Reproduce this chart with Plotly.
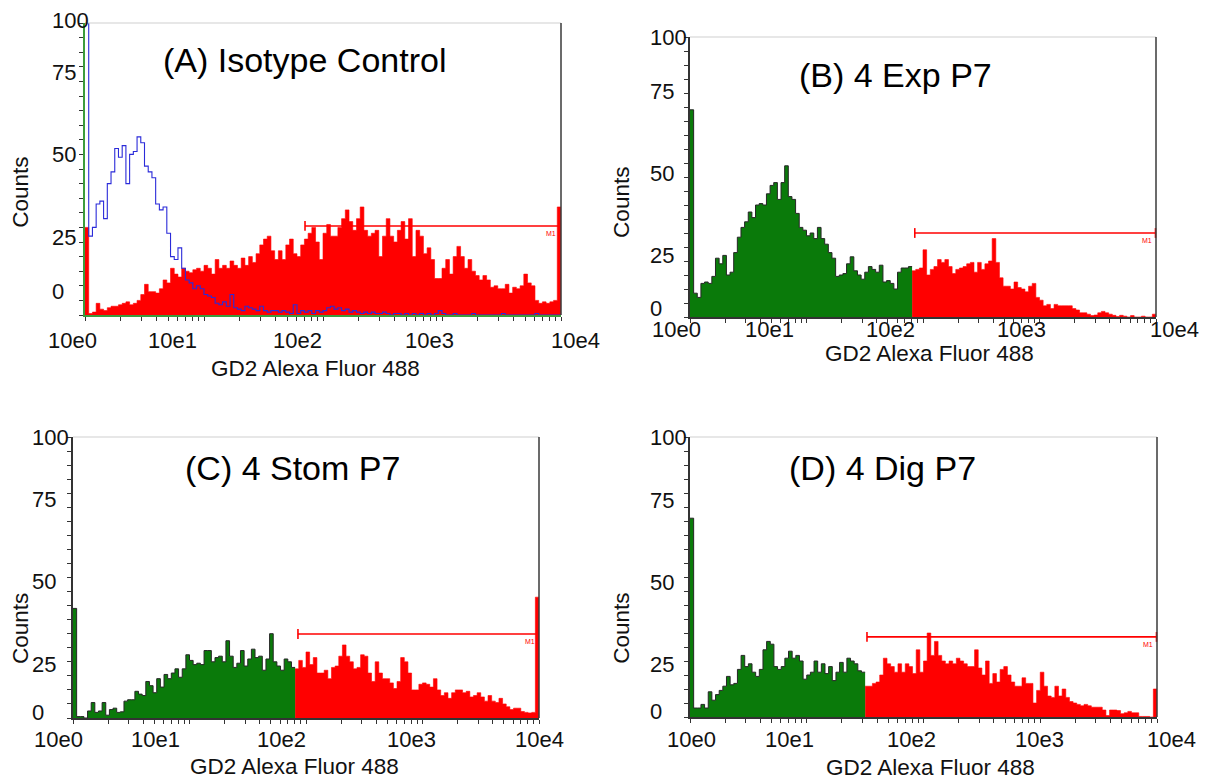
import numpy as np
import plotly.graph_objects as go

# ---------------- data (128 log bins over 4 decades, 10^0 .. 10^4) ----------------
X_TICK_TEXT = ["10e0", "10e1", "10e2", "10e3", "10e4"]
Y_TICK_TEXT = ["100", "75", "50", "25", "0"]
X_TITLE = "GD2 Alexa Fluor 488"
Y_TITLE = "Counts"
PANEL_TITLES = ["(A) Isotype Control", "(B) 4 Exp P7", "(C) 4 Stom P7", "(D) 4 Dig P7"]
GATE_LABEL = "M1"

A_ISOTYPE = [100, 27, 30, 38, 39, 33, 45, 49, 57, 54, 58, 45, 55, 56, 61, 59,
             51, 49, 47, 38, 36, 37, 28, 20, 19, 23, 16, 12, 11, 9, 10, 9,
             7, 6.5, 6, 4, 3.5, 4.5, 3, 7, 2.5, 2, 1.5, 3, 2.5, 2, 1.5, 3,
             1.5, 1, 1.5, 1.5, 1, 1.5, 1, 0.5, 3.5, 0.5, 1.5, 1, 1.5, 0.5, 1.5, 1,
             1.5, 2.5, 3, 2, 2.5, 1.5, 2, 1, 1.5, 1, 0.5, 1, 0.5, 1, 0.5, 0.5,
             1, 0.5, 0, 0.5, 0.5, 0, 0.5, 0, 0.5, 0, 0.5, 0, 0.5, 0, 0.5, 1.5,
             0.5, 0, 0, 0.5, 0, 0, 0, 0, 0.5, 0, 0, 0, 0, 0, 0, 0,
             0.5, 0, 0, 0, 0, 0, 0, 0, 0, 0.5, 0, 0, 0, 0, 0, 0]

A_STAINED = [30, 0.5, 1, 4, 2, 1.5, 2.5, 3, 3, 3.5, 4, 4.5, 3.5, 4, 5, 7,
             10.5, 8, 8, 7.5, 9, 12, 11, 16, 14, 13, 16, 15, 14.5, 15.5, 16, 15,
             17, 16, 14, 19, 16, 17, 16, 18.5, 17, 16, 19.5, 17, 20, 18, 21, 24,
             26, 27, 22, 19, 22, 19, 24, 26, 21, 20, 24, 26, 28, 30, 25, 19,
             28, 31, 27, 27, 30, 33, 36, 32, 29, 33, 37, 29, 27, 28, 29, 20,
             27, 33, 27, 25, 29, 32, 26, 33, 20, 29, 27, 21, 23, 19, 12.5, 12.5,
             16, 19, 14, 20, 23.5, 20, 16, 19, 15, 13.5, 12, 13.5, 12, 9.5, 10, 9,
             9, 10.5, 7.5, 9.5, 9, 10, 14, 11, 10, 5, 4, 4.5, 4, 4.5, 5, 37]

B_COUNTS = [74, 8.5, 7, 12, 12.5, 12, 14.5, 21, 19, 22, 15, 16, 23, 28.5, 32, 34,
            37.5, 35.5, 40, 40.5, 40, 44, 47, 48, 42, 48, 54, 43, 42, 37, 32, 31,
            29, 30, 28, 32, 28, 26, 23, 21, 14.5, 15, 15.5, 19, 21.5, 16.5, 15, 13.5,
            16, 18, 17, 16, 18.5, 12.5, 13, 12, 10, 16, 17.5, 17.5, 18, 16.5, 17, 17.5,
            24, 15, 17, 18, 20.5, 19.5, 20.5, 18, 15.5, 17, 17.5, 18, 19, 19.5, 16, 19.5,
            17, 19, 20, 28, 19.5, 14, 11, 11, 10, 12.5, 10.5, 10, 9, 11, 12, 7,
            6, 4, 4.5, 3, 4.5, 4, 4, 4, 4, 3, 2.5, 1.5, 1.5, 1, 0.5, 0.7,
            1.5, 2, 1.5, 1, 0.6, 0.2, 0.6, 0.3, 0, 0.5, 0, 0, 0.3, 0, 0, 1]

C_COUNTS = [39, 0.5, 0.5, 0, 2.5, 5.5, 2, 2.5, 5.5, 1, 3, 3.5, 2, 2.2, 6, 6.5,
            6.5, 9.5, 8.5, 8, 13, 11.5, 9, 14, 11, 15.5, 14, 16, 17.5, 14.5, 17.5, 22.5,
            20.5, 19, 19.5, 19, 24, 24, 20, 21.5, 22, 20, 27.5, 22, 18, 19.5, 24, 18.5,
            21, 24.5, 21.5, 22, 17, 21, 30, 20, 18.5, 17, 21, 20, 18, 17.5, 20.5, 18,
            23.5, 19, 21.5, 16, 16, 17, 14, 18, 18.5, 22, 26, 22, 20, 17.5, 18, 22.5,
            22, 16, 13, 20, 16, 14, 14, 12.5, 10.5, 13, 21.5, 20, 16, 10, 10, 12,
            12.5, 12, 11, 14, 10, 8, 9, 7, 9, 10, 10, 9, 9.5, 7.5, 8, 9,
            7.5, 6, 8, 6, 5.5, 7, 5, 4, 3, 3.5, 3.5, 2.3, 2, 1.8, 2, 43]

D_COUNTS = [71, 3.2, 3.2, 4.5, 3.2, 9, 6, 8, 9.5, 11, 14.5, 11.5, 12, 17, 22, 18,
            19, 16, 14.5, 17, 24, 27, 26, 18, 17, 18, 21, 23.5, 21, 22, 20, 13.5,
            15, 16, 20, 16, 19, 15.5, 18, 13, 16, 19.5, 16, 21, 20, 19, 16.5, 16,
            11, 11, 12, 12.5, 15, 21, 19, 18, 16, 19, 16, 19, 18, 15.5, 24, 16,
            20, 30, 22, 27, 22, 20, 19, 20, 19, 21, 20, 19, 18, 18, 24, 17.5,
            15, 20, 12, 15.5, 12.5, 17, 18, 15, 12.5, 11, 11, 14, 12, 12, 5, 9.5,
            16, 11, 7.5, 7, 11, 7.5, 10, 7, 5.5, 5, 4.5, 4, 4.5, 4, 3.5, 3.5,
            3.5, 2.5, 0.5, 2.5, 2.5, 2.3, 1.2, 1.5, 2, 1.5, 1.5, 0.2, 0.2, 0.2, 0, 10]

# first bin inside the M1 region (green before, red after) for B, C, D
SPLIT_BIN = [None, 61, 61, 48]
# M1 gate: start (fluorescence), end, and drawing level (counts)
GATE_START = [70.6, 85.0, 85.3, 32.8]
GATE_END = [9700, 9900, 9800, 9900]
GATE_LEVEL = [30.5, 30.0, 29.9, 28.6]

DECADES = 4

# ---------------- styling ----------------
FONT = "Liberation Sans, Arial, sans-serif"
RED = "#ff0000"
GREEN = "#0a7a0a"
BLUE = "#2b2bd9"
PAGE_W, PAGE_H = 1211, 780
PAGE_MARGIN = 8                      # default <body> margin of the written page
W, H = PAGE_W - PAGE_MARGIN, PAGE_H - PAGE_MARGIN

# panel boxes in page pixels: (left, right, top, bottom)
BOXES = [(85, 561, 23, 315), (690, 1156, 37, 317), (73, 539, 437, 718), (690, 1157, 437, 717)]
AXIS_LINE = ["#3c9c3c", "#333333", "#333333", "#333333"]

# label placements in axis-domain fractions
LABELS = [
    dict(xl=[-0.027, 0.183, 0.447, 0.723, 1.031], xly=-0.086, ylx=-0.0735,
         yly=[1.01, 0.829, 0.548, 0.264, 0.079], yt=(-0.137, 0.421), xt=(0.485, -0.182), tt=(0.462, 0.873)),
    dict(xl=[-0.030, 0.170, 0.431, 0.712, 1.039], xly=-0.043, ylx=-0.090,
         yly=[1.0, 0.804, 0.511, 0.218, 0.03], yt=(-0.146, 0.411), xt=(0.515, -0.132), tt=(0.44, 0.864)),
    dict(xl=[-0.032, 0.176, 0.448, 0.727, 1.002], xly=-0.078, ylx=-0.092,
         yly=[1.0, 0.776, 0.484, 0.189, 0.021], yt=(-0.114, 0.320), xt=(0.476, -0.174), tt=(0.47, 0.89)),
    dict(xl=[0.004, 0.214, 0.475, 0.749, 1.032], xly=-0.082, ylx=-0.090,
         yly=[1.0, 0.775, 0.482, 0.186, 0.018], yt=(-0.146, 0.318), xt=(0.514, -0.179), tt=(0.413, 0.889)),
]
TICK_FONT = 22
TITLE_FONT = 22.5
PANEL_FONT = 34


def step(counts, start, stop):
    n = len(counts)
    edges = 10 ** (np.arange(start, stop + 1) * DECADES / n)
    ys = list(counts[start:stop]) + [counts[stop - 1]]
    return edges, ys


fig = go.Figure()
minor_vals = [m * 10 ** k for k in range(DECADES) for m in range(1, 10)] + [10 ** DECADES]

panels = [(A_STAINED, A_ISOTYPE), (B_COUNTS, None), (C_COUNTS, None), (D_COUNTS, None)]

layout_axes = {}
annotations = []
shapes = []

for p, (counts, control) in enumerate(panels):
    k = "" if p == 0 else str(p + 1)
    xa, ya = "x" + k, "y" + k
    n = len(counts)
    if SPLIT_BIN[p] is None:
        ex, ey = step(counts, 0, n)
        fig.add_trace(go.Scatter(x=ex, y=ey, mode="lines", line=dict(shape="hv", color=RED, width=0.6),
                                 fill="tozeroy", fillcolor=RED, xaxis=xa, yaxis=ya, hoverinfo="skip"))
    else:
        s = SPLIT_BIN[p]
        ex, ey = step(counts, s, n)
        fig.add_trace(go.Scatter(x=ex, y=ey, mode="lines", line=dict(shape="hv", color=RED, width=0.6),
                                 fill="tozeroy", fillcolor=RED, xaxis=xa, yaxis=ya, hoverinfo="skip"))
        ex, ey = step(counts, 0, s)
        fig.add_trace(go.Scatter(x=ex, y=ey, mode="lines", line=dict(shape="hv", color="#262626", width=1),
                                 fill="tozeroy", fillcolor=GREEN, xaxis=xa, yaxis=ya, hoverinfo="skip"))
    if control is not None:
        ex, ey = step(control, 0, len(control))
        fig.add_trace(go.Scatter(x=ex, y=ey, mode="lines", line=dict(shape="hv", color=BLUE, width=1.1),
                                 xaxis=xa, yaxis=ya, hoverinfo="skip"))
    # M1 gate
    fig.add_trace(go.Scatter(x=[GATE_START[p], GATE_END[p]], y=[GATE_LEVEL[p], GATE_LEVEL[p]],
                             mode="lines+markers", line=dict(color=RED, width=1.6),
                             marker=dict(symbol="line-ns-open", size=7, line=dict(color=RED, width=1.6)),
                             xaxis=xa, yaxis=ya, hoverinfo="skip", cliponaxis=False))
    annotations.append(dict(x=np.log10(GATE_END[p]), y=GATE_LEVEL[p], xref=xa, yref=ya, text=GATE_LABEL,
                            showarrow=False, xanchor="right", yanchor="top", yshift=-2, xshift=-1,
                            font=dict(family=FONT, size=7, color=RED)))

    l, r, t, b = BOXES[p]
    m = PAGE_MARGIN
    layout_axes["xaxis" + k] = dict(
        type="log", range=[0, DECADES], domain=[(l - m) / W, (r - m) / W], anchor=ya,
        showgrid=False, zeroline=False, showline=True, linecolor=AXIS_LINE[p], linewidth=1.5,
        ticks="outside", ticklen=4, tickcolor="#333333", tickwidth=1, tickvals=minor_vals,
        showticklabels=False, fixedrange=True)
    layout_axes["yaxis" + k] = dict(
        range=[0, 100], domain=[1 - (b - m) / H, 1 - (t - m) / H], anchor=xa,
        showgrid=False, zeroline=False, showline=True, linecolor=AXIS_LINE[p], linewidth=1.5,
        ticks="outside", ticklen=4, tickcolor="#333333", tickwidth=1, tickvals=list(range(0, 101, 5)),
        showticklabels=False, fixedrange=True)

    # frame: light top edge, dark right edge
    shapes.append(dict(type="line", xref=xa + " domain", yref=ya + " domain", x0=0, x1=1, y0=1, y1=1,
                       line=dict(color="#cfcfcf", width=1)))
    shapes.append(dict(type="line", xref=xa + " domain", yref=ya + " domain", x0=1, x1=1, y0=0, y1=1,
                       line=dict(color="#3a3a3a", width=1.5)))

    L = LABELS[p]
    for txt, xv in zip(X_TICK_TEXT, L["xl"]):
        annotations.append(dict(x=xv, y=L["xly"], xref=xa + " domain", yref=ya + " domain", text=txt,
                                showarrow=False, xanchor="center", yanchor="middle",
                                font=dict(family=FONT, size=TICK_FONT, color="#111111")))
    for txt, yv in zip(Y_TICK_TEXT, L["yly"]):
        annotations.append(dict(x=L["ylx"], y=yv, xref=xa + " domain", yref=ya + " domain", text=txt,
                                showarrow=False, xanchor="left", yanchor="middle",
                                font=dict(family=FONT, size=TICK_FONT, color="#111111")))
    annotations.append(dict(x=L["yt"][0], y=L["yt"][1], xref=xa + " domain", yref=ya + " domain",
                            text=Y_TITLE, textangle=-90, showarrow=False, xanchor="center", yanchor="middle",
                            font=dict(family=FONT, size=TITLE_FONT, color="#111111")))
    annotations.append(dict(x=L["xt"][0], y=L["xt"][1], xref=xa + " domain", yref=ya + " domain",
                            text=X_TITLE, showarrow=False, xanchor="center", yanchor="middle",
                            font=dict(family=FONT, size=TITLE_FONT, color="#111111")))
    annotations.append(dict(x=L["tt"][0], y=L["tt"][1], xref=xa + " domain", yref=ya + " domain",
                            text=PANEL_TITLES[p], showarrow=False, xanchor="center", yanchor="middle",
                            font=dict(family=FONT, size=PANEL_FONT, color="#000000")))

fig.update_layout(
    width=W, height=H, margin=dict(l=0, r=0, t=0, b=0),
    paper_bgcolor="white", plot_bgcolor="white", showlegend=False,
    annotations=annotations, shapes=shapes, **layout_axes)

fig.write_html("out.html")
